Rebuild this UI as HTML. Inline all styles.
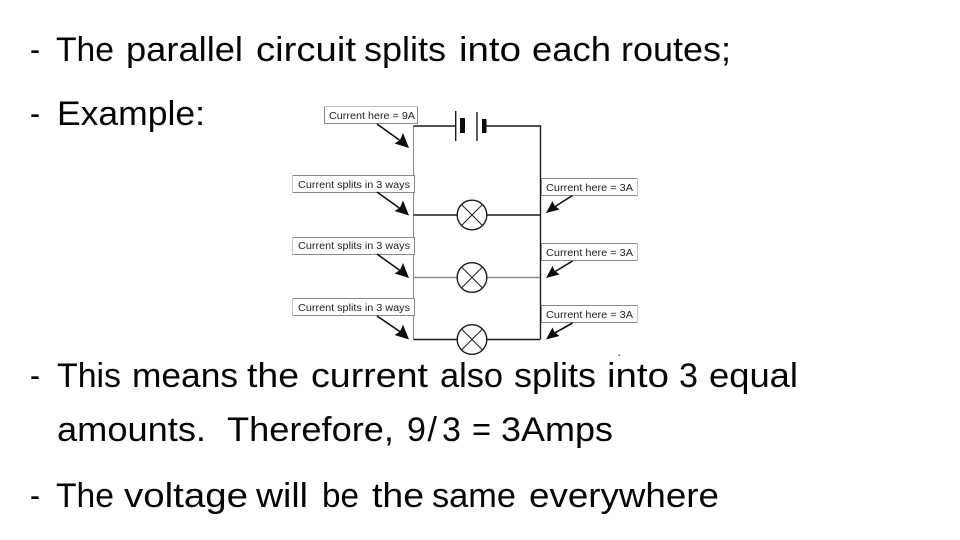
<!DOCTYPE html>
<html><head><meta charset="utf-8"><style>html,body{margin:0;padding:0;background:#fff}svg{display:block}
.t{font:34px "Liberation Sans",sans-serif;fill:#050505}
.s{font:10px "Liberation Sans",sans-serif;fill:#222}
.b{fill:#fff;stroke:#8a8a8a;stroke-width:1}
.w{stroke:#1a1a1a;stroke-width:1.4;fill:none}
.g{stroke:#8c8c8c;stroke-width:1.5;fill:none}
.a{stroke:#111;stroke-width:1.6;fill:none}
.h{fill:#111}
</style></head><body>
<svg width="960" height="540" viewBox="0 0 960 540" xmlns="http://www.w3.org/2000/svg">
<defs><filter id="f" x="0" y="0" width="1" height="1"><feGaussianBlur stdDeviation="0.35"/></filter></defs>
<rect width="960" height="540" fill="#fff"/>
<g filter="url(#f)">
<!-- wires -->
<path class="g" d="M413.500 126V339" style="stroke-width:1.100"/>
<path class="w" d="M413.500 126H456M486 126H540.500V339.500"/>
<path class="w" d="M413.500 215H457M487 215H540"/>
<path class="g" d="M413.500 277.500H457M487 277.500H540"/>
<path class="w" d="M413.500 339.500H457M487 339.500H540"/>
<!-- battery -->
<path class="w" d="M455.700 111V141M477 112V141"/>
<rect x="460" y="118" width="5" height="15" fill="#111"/>
<rect x="482" y="119" width="4.500" height="14" fill="#111"/>
<!-- lamps -->
<g class="w">
<circle cx="472" cy="215" r="14.800" fill="#fff"/><path d="M461.500 204.500L482.500 225.500M482.500 204.500L461.500 225.500" stroke-width="1"/>
<circle cx="472" cy="277.500" r="14.800" fill="#fff"/><path d="M461.500 267L482.500 288M482.500 267L461.500 288" stroke-width="1"/>
<circle cx="472" cy="339.500" r="14.800" fill="#fff"/><path d="M461.500 329L482.500 350M482.500 329L461.500 350" stroke-width="1"/>
</g>
<!-- label boxes -->
<rect class="b" x="324.500" y="106.500" width="93" height="17"/>
<text class="s" x="329" y="119" textLength="86" lengthAdjust="spacingAndGlyphs">Current here = 9A</text>
<rect class="b" x="292.500" y="175.500" width="122" height="17"/>
<text class="s" x="298" y="188" textLength="112" lengthAdjust="spacingAndGlyphs">Current splits in 3 ways</text>
<rect class="b" x="292.500" y="237.500" width="122" height="17"/>
<text class="s" x="298" y="249" textLength="112" lengthAdjust="spacingAndGlyphs">Current splits in 3 ways</text>
<rect class="b" x="292.500" y="298.500" width="122" height="17"/>
<text class="s" x="298" y="311" textLength="112" lengthAdjust="spacingAndGlyphs">Current splits in 3 ways</text>
<rect class="b" x="541.500" y="178.500" width="96" height="17"/>
<text class="s" x="546" y="191" textLength="87" lengthAdjust="spacingAndGlyphs">Current here = 3A</text>
<rect class="b" x="541.500" y="243.500" width="96" height="17"/>
<text class="s" x="546" y="256" textLength="87" lengthAdjust="spacingAndGlyphs">Current here = 3A</text>
<rect class="b" x="541.500" y="305.500" width="96" height="17"/>
<text class="s" x="546" y="318" textLength="87" lengthAdjust="spacingAndGlyphs">Current here = 3A</text>
<!-- arrows -->
<path class="a" d="M377 124L402 142M377 192L402 210M377 254L402 272M377 316L402 333"/>
<path class="h" d="M409 148L394.500 143.500L400 140L403 133ZM409 215.500L394.500 211L400 207.500L403 200.500ZM409 278L394.500 273.500L400 270L403 263ZM409 339.500L394.500 335L400 331.500L403 324.500Z"/>
<path class="a" d="M572.500 195.500L552 208.500M572.500 261L552 273.500M572.500 323L552 334.500"/>
<path class="h" d="M546 213L552.500 201L554.500 205.500L559.500 209.500ZM546 278L552.500 266L554.500 270.500L559.500 274.500ZM546 339.500L552.500 327.500L554.500 332L559.500 336Z"/>
<rect x="618.500" y="354.500" width="1.500" height="1.500" fill="#666"/>
</g>
<!-- text -->
<g class="t">
<text x="30" y="61" textLength="10" lengthAdjust="spacingAndGlyphs">-</text>
<text x="56" y="61" textLength="58" lengthAdjust="spacingAndGlyphs">The</text>
<text x="126" y="61" textLength="117" lengthAdjust="spacingAndGlyphs">parallel</text>
<text x="256" y="61" textLength="100" lengthAdjust="spacingAndGlyphs">circuit</text>
<text x="364" y="61" textLength="82" lengthAdjust="spacingAndGlyphs">splits</text>
<text x="459" y="61" textLength="62" lengthAdjust="spacingAndGlyphs">into</text>
<text x="532" y="61" textLength="79" lengthAdjust="spacingAndGlyphs">each</text>
<text x="621" y="61" textLength="110" lengthAdjust="spacingAndGlyphs">routes;</text>

<text x="30" y="125" textLength="10" lengthAdjust="spacingAndGlyphs">-</text>
<text x="57" y="125" textLength="148" lengthAdjust="spacingAndGlyphs">Example:</text>

<text x="30" y="387" textLength="10" lengthAdjust="spacingAndGlyphs">-</text>
<text x="57" y="387" textLength="64" lengthAdjust="spacingAndGlyphs">This</text>
<text x="132" y="387" textLength="106" lengthAdjust="spacingAndGlyphs">means</text>
<text x="247" y="387" textLength="52" lengthAdjust="spacingAndGlyphs">the</text>
<text x="311" y="387" textLength="117" lengthAdjust="spacingAndGlyphs">current</text>
<text x="440" y="387" textLength="63" lengthAdjust="spacingAndGlyphs">also</text>
<text x="514" y="387" textLength="82" lengthAdjust="spacingAndGlyphs">splits</text>
<text x="607" y="387" textLength="62" lengthAdjust="spacingAndGlyphs">into</text>
<text x="679" y="387" textLength="19" lengthAdjust="spacingAndGlyphs">3</text>
<text x="709" y="387" textLength="89" lengthAdjust="spacingAndGlyphs">equal</text>

<text x="57" y="441" textLength="149" lengthAdjust="spacingAndGlyphs">amounts.</text>
<text x="227" y="441" textLength="167" lengthAdjust="spacingAndGlyphs">Therefore,</text>
<text y="441" x="407 427.500 442">9/3</text>
<text x="472" y="441" textLength="19" lengthAdjust="spacingAndGlyphs">=</text>
<text x="501" y="441" textLength="112" lengthAdjust="spacingAndGlyphs">3Amps</text>

<text x="30" y="507" textLength="10" lengthAdjust="spacingAndGlyphs">-</text>
<text x="56" y="507" textLength="58" lengthAdjust="spacingAndGlyphs">The</text>
<text x="124" y="507" textLength="124" lengthAdjust="spacingAndGlyphs">voltage</text>
<text x="256" y="507" textLength="52" lengthAdjust="spacingAndGlyphs">will</text>
<text x="322" y="507" textLength="37" lengthAdjust="spacingAndGlyphs">be</text>
<text x="372" y="507" textLength="52" lengthAdjust="spacingAndGlyphs">the</text>
<text x="432" y="507" textLength="84" lengthAdjust="spacingAndGlyphs">same</text>
<text x="529" y="507" textLength="190" lengthAdjust="spacingAndGlyphs">everywhere</text>
</g>
</svg>
</body></html>
